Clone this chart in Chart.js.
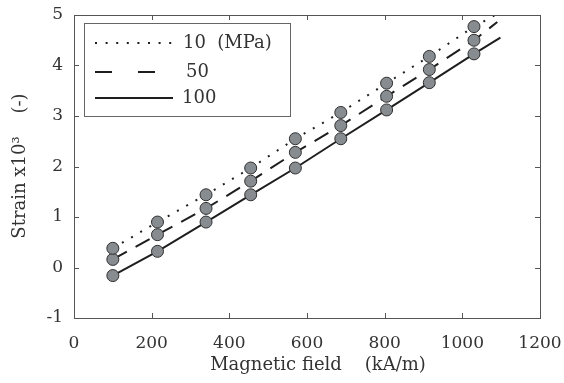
<!DOCTYPE html>
<html>
<head>
<meta charset="utf-8">
<script src="https://cdn.jsdelivr.net/npm/chart.js@4"></script>
<style>
  html, body { margin: 0; padding: 0; background: #fff; }
  #wrap { width: 564px; height: 383px; }
</style>
</head>
<body>
<div id="wrap"><canvas id="chart" width="564" height="383"></canvas></div>
<script>
// Magnetic field (kA/m) of the measured points
const fieldValues = [100, 215, 340, 455, 570, 687, 805, 915, 1030];
// strain x10^3 for each stress level
const strain10 = [0.38, 0.90, 1.44, 1.97, 2.55, 3.07, 3.65, 4.18, 4.77];
const strain50 = [0.16, 0.65, 1.17, 1.71, 2.28, 2.81, 3.39, 3.92, 4.50];
const strain100 = [-0.16, 0.32, 0.90, 1.44, 1.97, 2.55, 3.12, 3.66, 4.23];
// where the fitted lines stop (10, 50, 100 MPa)
const lineEndField = [1085, 1090, 1098];
const lineEndStrain = [5.0, 4.86, 4.55];
const legendLabels = ['10  (MPa)', ' 50', '100'];
const xTicks = [0, 200, 400, 600, 800, 1000, 1200];
const yTicks = [-1, 0, 1, 2, 3, 4, 5];

const FONT = 'DejaVu Serif';
const TEXT = '#333';
const AXIS = '#555';
const LINE = '#1e1e1e';
const DASHES = [[2, 8.6], [16, 10], []];

function pts(ys, i) {
  const out = fieldValues.map((x, k) => ({ x, y: ys[k] }));
  out.push({ x: lineEndField[i], y: lineEndStrain[i] });
  return out;
}
function marks(ys) {
  return fieldValues.map((x, k) => ({ x, y: ys[k] }));
}

const series = [strain10, strain50, strain100];
const datasets = [];
series.forEach((ys, i) => {
  datasets.push({
    label: legendLabels[i],
    data: pts(ys, i),
    showLine: true,
    borderColor: LINE,
    borderWidth: 2,
    borderDash: DASHES[i],
    pointRadius: 0,
    order: 2
  });
});
series.forEach(ys => {
  datasets.push({
    data: marks(ys),
    showLine: false,
    pointRadius: 6,
    pointBackgroundColor: '#878c91',
    pointBorderColor: '#2e2e2e',
    pointBorderWidth: 1,
    order: 0
  });
});

// box, inward ticks, axis titles and legend
const framePlugin = {
  id: 'frame',
  afterDraw(chart) {
    const { ctx, chartArea: a, scales } = chart;
    ctx.save();
    ctx.strokeStyle = AXIS;
    ctx.lineWidth = 1;
    ctx.strokeRect(a.left + 0.5, a.top + 0.5, a.right - a.left, a.bottom - a.top);
    ctx.beginPath();
    xTicks.forEach(v => {
      const px = Math.round(scales.x.getPixelForValue(v)) + 0.5;
      ctx.moveTo(px, a.bottom); ctx.lineTo(px, a.bottom - 5);
      ctx.moveTo(px, a.top); ctx.lineTo(px, a.top + 5);
    });
    yTicks.forEach(v => {
      const py = Math.round(scales.y.getPixelForValue(v)) + 0.5;
      ctx.moveTo(a.left, py); ctx.lineTo(a.left + 5, py);
      ctx.moveTo(a.right, py); ctx.lineTo(a.right - 5, py);
    });
    ctx.stroke();

    // axis titles
    ctx.fillStyle = TEXT;
    ctx.font = '18px "' + FONT + '"';
    ctx.textAlign = 'center';
    ctx.textBaseline = 'middle';
    ctx.fillText('Magnetic field    (kA/m)', 318, 365);
    ctx.save();
    ctx.translate(20, 166);
    ctx.rotate(-Math.PI / 2);
    ctx.fillText('Strain x10\u00b3    (-)', 0, 0);
    ctx.restore();

    // legend
    ctx.fillStyle = '#fff';
    ctx.fillRect(84, 23, 206, 93);
    ctx.strokeStyle = '#666';
    ctx.lineWidth = 1;
    ctx.strokeRect(84.5, 23.5, 206, 93);
    const rows = [43, 72, 98];
    const textX = [183, 186, 182];
    ctx.font = '18px "' + FONT + '"';
    legendLabels.forEach((lab, i) => {
      ctx.strokeStyle = LINE;
      ctx.lineWidth = 2;
      ctx.setLineDash(i === 0 ? [2, 8.6] : i === 1 ? [17, 26] : []);
      ctx.beginPath();
      ctx.moveTo(95, rows[i]); ctx.lineTo(173, rows[i]);
      ctx.stroke();
      ctx.setLineDash([]);
      ctx.fillStyle = TEXT;
      ctx.textAlign = 'left';
      ctx.fillText(lab.trim(), textX[i], rows[i]);
    });
    ctx.restore();
  }
};

new Chart(document.getElementById('chart'), {
  type: 'scatter',
  data: { datasets },
  options: {
    responsive: false,
    animation: false,
    layout: { padding: { left: 0, top: 15, right: 24, bottom: 0 } },
    plugins: { legend: { display: false }, tooltip: { enabled: false } },
    scales: {
      x: {
        min: 0, max: 1200,
        afterBuildTicks: s => { s.ticks = xTicks.map(v => ({ value: v })); },
        afterFit: s => { s.height = 65; s.paddingLeft = 0; s.paddingRight = 0; },
        grid: { display: false, drawTicks: false },
        border: { display: false },
        ticks: { color: TEXT, font: { family: FONT, size: 17 }, padding: 15, maxRotation: 0,
                 callback: v => String(v) }
      },
      y: {
        min: -1, max: 5,
        afterBuildTicks: s => { s.ticks = yTicks.map(v => ({ value: v })); },
        afterFit: s => { s.width = 74; s.paddingTop = 0; s.paddingBottom = 0; },
        grid: { display: false, drawTicks: false },
        border: { display: false },
        ticks: { color: TEXT, font: { family: FONT, size: 17 }, padding: 11,
                 callback: v => String(v) }
      }
    }
  },
  plugins: [framePlugin]
});
</script>
</body>
</html>
